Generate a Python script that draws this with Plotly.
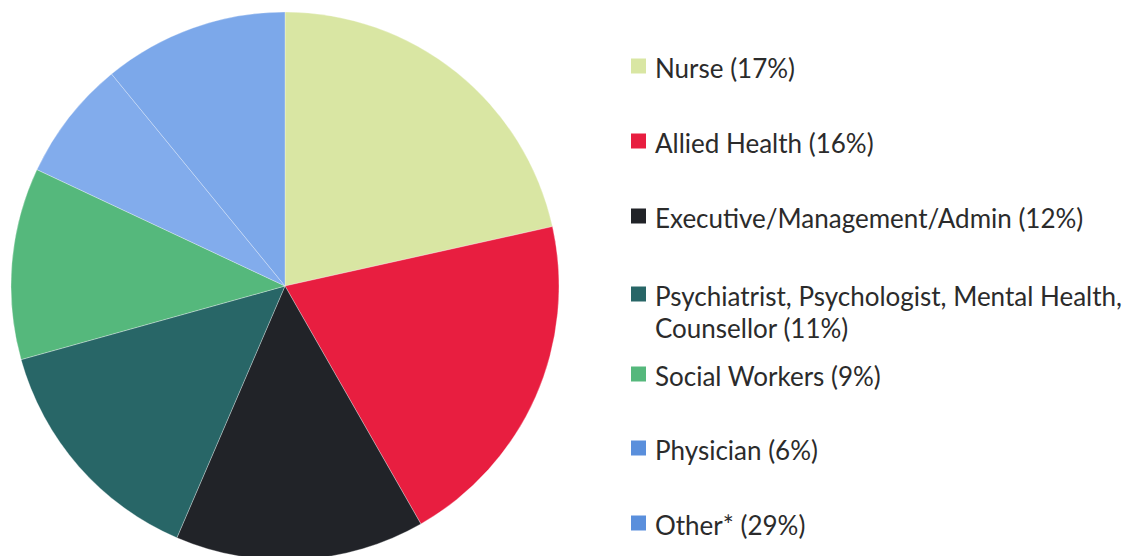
import plotly.graph_objects as go

# Data (slice shares; legend labels as printed)
categories = ["Nurse", "Allied Health", "Executive/Management/Admin",
              "Psychiatrist, Psychologist, Mental Health, Counsellor",
              "Social Workers", "Physician", "Other*"]
slice_values = [21.5, 20.2, 14.7, 14.2, 11.3, 7.1, 10.9]
legend_pct = [17, 16, 12, 11, 9, 6, 29]
legend_lines = [
    ["Nurse (17%)"],
    ["Allied Health (16%)"],
    ["Executive/Management/Admin (12%)"],
    ["Psychiatrist, Psychologist, Mental Health,", "Counsellor (11%)"],
    ["Social Workers (9%)"],
    ["Physician (6%)"],
    ["Other* (29%)"],
]

colors = ["#d9e6a3", "#e81e40", "#212328", "#286667", "#55b87c", "#82acec", "#7ca8ea"]
key_colors = ["#d9e6a3", "#e81e40", "#212328", "#286667", "#55b87c", "#5a8fdc", "#5a8fdc"]

W, H = 1142, 556
OFF = 8  # page body offset

fig = go.Figure()
fig.add_trace(go.Pie(
    labels=categories,
    values=slice_values,
    sort=False,
    direction="clockwise",
    rotation=0,
    textinfo="none",
    hoverinfo="label+percent",
    marker=dict(colors=colors, line=dict(color="rgba(255,255,255,0.5)", width=0.6)),
    domain=dict(x=[3 / W, 551 / W], y=[0, 1]),
    showlegend=False,
))

# Legend drawn as keys + text (positions in pixels from top-left of the page)
line_y = [[68], [143], [218], [296, 328], [376], [450], [525]]
text_x = 653
annotations = []
shapes = []
for i, lines in enumerate(legend_lines):
    for j, t in enumerate(lines):
        annotations.append(dict(
            x=(text_x - OFF) / W, y=1 - (line_y[i][j] - OFF) / H, xref="paper", yref="paper",
            text=t, showarrow=False, xanchor="left", yanchor="middle",
            font=dict(family="Lato", size=26, color="#2b2b2b"),
        ))
    cy = line_y[i][0] - 2 - OFF
    shapes.append(dict(
        type="rect", xref="paper", yref="paper",
        x0=(631 - OFF) / W, x1=(646 - OFF) / W, y0=1 - (cy + 7.5) / H, y1=1 - (cy - 7.5) / H,
        fillcolor=key_colors[i], line=dict(width=0),
    ))

fig.update_layout(
    width=W, height=H,
    margin=dict(l=0, r=0, t=0, b=0),
    paper_bgcolor="white", plot_bgcolor="white",
    annotations=annotations, shapes=shapes,
)

fig.write_html("out.html")
